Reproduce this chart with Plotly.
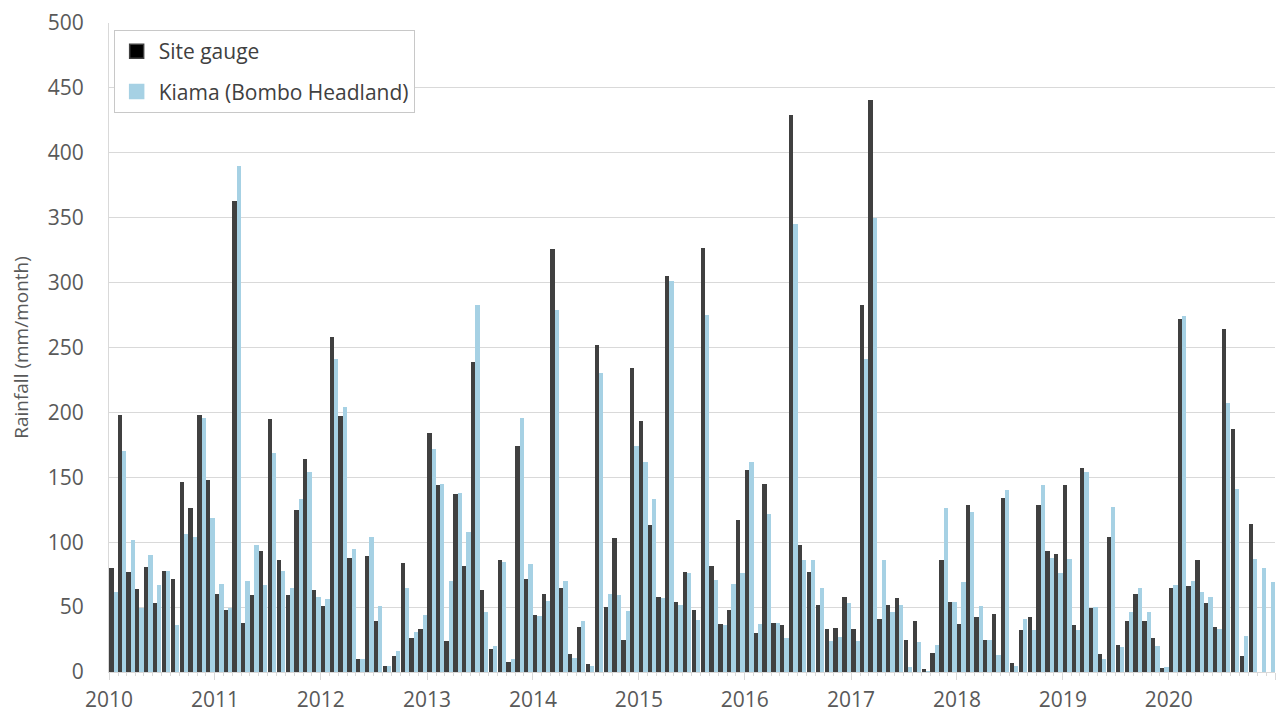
import pandas as pd
import plotly.graph_objects as go

# ---- data (monthly rainfall, mm/month) ----
start_month = "2010-01-01"
n_months = 132

site_gauge = [
    80, 198, 77, 64, 81, 53, 78, 72, 146, 126, 198, 148,      # 2010
    60, 48, 363, 38, 59, 93, 195, 86, 59, 125, 164, 63,       # 2011
    51, 258, 197, 88, 10, 89, 39, 5, 12, 84, 26, 33,          # 2012
    184, 144, 24, 137, 82, 239, 63, 18, 86, 8, 174, 72,       # 2013
    44, 60, 326, 65, 14, 35, 6, 252, 50, 103, 25, 234,        # 2014
    193, 113, 58, 305, 54, 77, 48, 327, 82, 37, 48, 117,      # 2015
    156, 30, 145, 38, 36, 429, 98, 77, 52, 33, 34, 58,        # 2016
    33, 283, 441, 41, 52, 57, 25, 39, 2, 15, 86, 54,          # 2017
    37, 129, 42, 25, 45, 134, 7, 32, 42, 129, 93, 91,         # 2018
    144, 36, 157, 49, 14, 104, 21, 39, 60, 39, 26, 3,         # 2019
    65, 272, 66, 86, 53, 35, 264, 187, 12, 114, None, None,   # 2020
]

kiama = [
    62, 170, 102, 49, 90, 67, 78, 36, 106, 104, 196, 119,     # 2010
    68, 49, 390, 70, 98, 67, 169, 78, 65, 133, 154, 58,       # 2011
    56, 241, 204, 95, 10, 104, 51, 5, 16, 65, 31, 44,         # 2012
    172, 145, 70, 138, 108, 283, 46, 20, 85, 10, 196, 83,     # 2013
    43, 55, 279, 70, 11, 39, 5, 230, 60, 59, 47, 174,         # 2014
    162, 133, 57, 301, 52, 76, 40, 275, 71, 36, 68, 76,       # 2015
    162, 37, 122, 38, 26, 345, 86, 86, 65, 24, 27, 53,        # 2016
    24, 241, 350, 86, 46, 52, 4, 23, 0.5, 21, 126, 54,        # 2017
    69, 123, 51, 25, 13, 140, 5, 41, 32, 144, 88, 76,         # 2018
    87, 32, 154, 50, 10, 127, 19, 46, 65, 46, 20, 4,          # 2019
    67, 274, 70, 62, 58, 33, 207, 141, 28, 87, 80, 69,        # 2020
]

series_names = ["Site gauge", "Kiama (Bombo Headland)"]
y_title = "Rainfall (mm/month)"

# month centres
starts = pd.date_range(start_month, periods=n_months + 1, freq="MS")
months = [starts[i] + (starts[i + 1] - starts[i]) / 2 for i in range(n_months)]

FONT = "Open Sans"
TXT = "#595959"
GRID = "#d9d9d9"
DARK = "#404040"
LIGHT = "#a6d1e4"

fig = go.Figure()
fig.add_trace(go.Bar(x=months, y=site_gauge, name=series_names[0], showlegend=False,
                     marker=dict(color=DARK, line=dict(width=0))))
fig.add_trace(go.Bar(x=months, y=kiama, name=series_names[1], showlegend=False,
                     marker=dict(color=LIGHT, line=dict(width=0))))

# legend entries (square swatches like the reference)
fig.add_trace(go.Scatter(x=[None], y=[None], mode="markers", name=series_names[0],
                         legendgroup="a",
                         marker=dict(symbol="square", size=14, color="#000000",
                                     line=dict(color=DARK, width=1.5))))
fig.add_trace(go.Scatter(x=[None], y=[None], mode="markers", name=series_names[1],
                         legendgroup="b",
                         marker=dict(symbol="square", size=14, color=LIGHT,
                                     line=dict(color=LIGHT, width=1.5))))

fig.update_layout(
    width=1276, height=713,
    margin=dict(l=109, r=1, t=23, b=41),
    paper_bgcolor="white", plot_bgcolor="white",
    barmode="group", bargap=0.0, bargroupgap=0.0,
    font=dict(family=FONT, color=TXT, size=20),
    showlegend=True,
    legend=dict(x=0.004, y=0.989, xanchor="left", yanchor="top",
                bgcolor="white", bordercolor="#c8c8c8", borderwidth=1,
                font=dict(family=FONT, size=21, color="#404040"),
                traceorder="grouped", tracegroupgap=10,
                itemwidth=34),
)

fig.update_xaxes(
    type="date",
    range=[starts[0], starts[-1]],
    dtick="M12", tick0=start_month, tickformat="%Y",
    ticks="outside", ticklen=7, tickcolor=GRID, tickwidth=1,
    minor=dict(dtick="M1", ticks="outside", ticklen=3, tickcolor=GRID, showgrid=False),
    showline=True, linecolor=GRID, linewidth=1,
    showgrid=False, zeroline=False,
    tickfont=dict(family=FONT, size=21, color=TXT),
    ticklabelstandoff=2,
)

fig.update_yaxes(
    range=[0, 500], dtick=50,
    showgrid=True, gridcolor=GRID, gridwidth=1,
    showline=True, linecolor=GRID, linewidth=1,
    zeroline=False, ticks="",
    tickfont=dict(family=FONT, size=21, color=TXT),
    ticklabelstandoff=20,
    title=dict(text=y_title, font=dict(family=FONT, size=19, color=TXT), standoff=14),
)

fig.write_html("out.html",
               config={"displayModeBar": False},
               post_script="document.body.style.margin='0';document.body.style.overflow='hidden';")
